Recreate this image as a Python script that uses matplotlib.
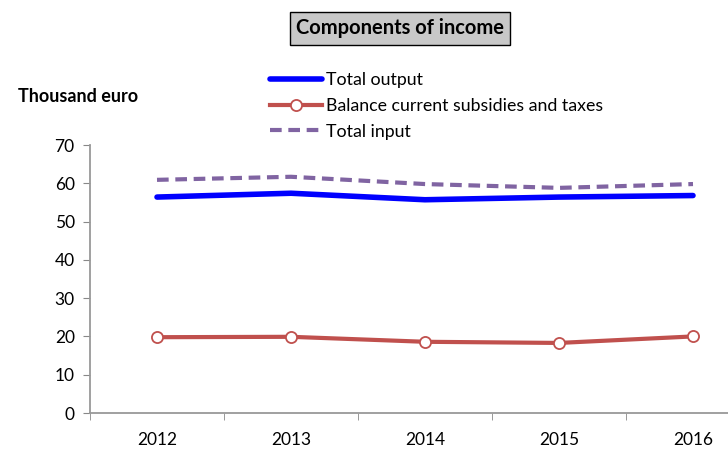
import matplotlib.pyplot as plt
import numpy as np

years = ["2012", "2013", "2014", "2015", "2016"]
total_output = [56.4, 57.4, 55.7, 56.4, 56.8]
balance = [19.8, 19.9, 18.6, 18.3, 20.0]
total_input = [60.9, 61.7, 59.8, 58.8, 59.8]

plt.rcParams["font.family"] = ["Lato", "DejaVu Sans"]

fig = plt.figure(figsize=(7.28, 4.5), dpi=100)
ax = fig.add_axes([90 / 728, 1 - 413 / 450, 670 / 728, 268 / 450])

x = np.arange(len(years))
ax.plot(x, total_output, color="#0000ff", lw=4, solid_capstyle="round", label="Total output")
ax.plot(x, balance, color="#c0504d", lw=3, marker="o", markersize=8,
        markerfacecolor="white", markeredgecolor="#c0504d", markeredgewidth=1.3,
        label="Balance current subsidies and taxes")
ax.plot(x, total_input, color="#8064a2", lw=3, ls=(0, (2.8, 1.6)), label="Total input")

ax.set_xlim(-0.5, len(years) - 0.5)
ax.set_ylim(0, 70)
ax.set_yticks(range(0, 71, 10))
ax.set_xticks(x)
ax.set_xticklabels(years)
ax.set_xticks(np.arange(-0.5, len(years), 1), minor=True)
ax.tick_params(axis="x", which="major", length=0, pad=14, labelsize=12.5)
ax.tick_params(axis="x", which="minor", length=5, color="#888888", direction="out")
ax.tick_params(axis="y", length=5, color="#888888", labelsize=12.5, pad=6)
for side in ("top", "right"):
    ax.spines[side].set_visible(False)
for side in ("left", "bottom"):
    ax.spines[side].set_color("#999999")
    ax.spines[side].set_linewidth(1.3)

fig.text(400 / 728, 1 - 28.5 / 450, "Components of income", ha="center", va="center",
         fontsize=14.5, fontweight="bold",
         bbox=dict(boxstyle="square,pad=0.3", facecolor="#c8c8c8", edgecolor="black", lw=1))
fig.text(18 / 728, 1 - 96 / 450, "Thousand euro", ha="left", va="center",
         fontsize=13, fontweight="bold")

fig.legend(loc="upper left", bbox_to_anchor=(270 / 728, 1 - 72 / 450), frameon=False,
           fontsize=12.8, handlelength=2.9, handletextpad=0.25, labelspacing=0.55,
           borderpad=0, borderaxespad=0)

fig.savefig("out.png", dpi=100)
